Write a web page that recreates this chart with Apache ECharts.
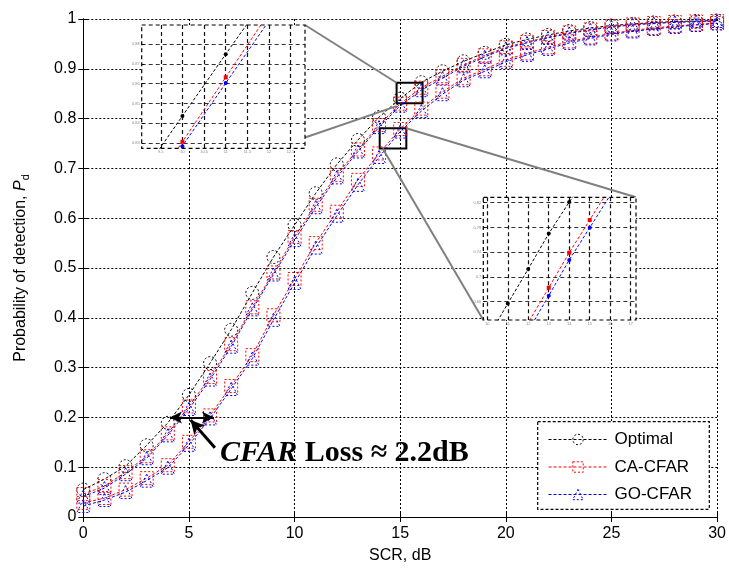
<!DOCTYPE html>
<html>
<head>
<meta charset="utf-8">
<script src="https://cdn.jsdelivr.net/npm/echarts@6/dist/echarts.min.js"></script>
<style>html,body{margin:0;padding:0;background:#fff}#main{width:729px;height:570px}</style>
</head>
<body>
<div id="main"></div>
<script>
// ---------- data ----------
const scr = [0,1,2,3,4,5,6,7,8,9,10,11,12,13,14,15,16,17,18,19,20,21,22,23,24,25,26,27,28,29,30];
const optimal = [0.055,0.076,0.102,0.144,0.189,0.245,0.309,0.376,0.450,0.522,0.586,0.650,0.708,0.757,0.803,0.840,0.873,0.895,0.915,0.932,0.948,0.959,0.968,0.976,0.982,0.987,0.990,0.993,0.995,0.996,0.997];
const caUpper = [0.046,0.062,0.090,0.122,0.168,0.222,0.281,0.347,0.421,0.491,0.562,0.627,0.687,0.738,0.787,0.830,0.862,0.885,0.908,0.927,0.943,0.954,0.964,0.973,0.979,0.985,0.989,0.992,0.994,0.995,0.996];
const goUpper = [0.041,0.058,0.086,0.118,0.164,0.217,0.276,0.342,0.417,0.487,0.556,0.622,0.682,0.734,0.783,0.826,0.857,0.881,0.905,0.924,0.941,0.952,0.962,0.971,0.978,0.984,0.988,0.991,0.993,0.995,0.996];
const caLower = [0.028,0.038,0.055,0.078,0.104,0.151,0.204,0.263,0.325,0.405,0.478,0.550,0.613,0.677,0.730,0.779,0.820,0.854,0.881,0.899,0.918,0.931,0.943,0.955,0.963,0.971,0.977,0.982,0.986,0.989,0.992];
const goLower = [0.022,0.034,0.050,0.073,0.099,0.145,0.198,0.257,0.318,0.396,0.470,0.541,0.605,0.667,0.723,0.774,0.815,0.849,0.877,0.895,0.914,0.928,0.940,0.952,0.961,0.969,0.975,0.980,0.984,0.988,0.991];

// inset 1 (upper-left)
const inset1X = [9,10,11,12,13];
const inset1Optimal = [0.812,0.8436,0.875,0.906,0.937];
const inset1CA = [0.798,0.8305,0.8632,0.896,0.928];
const inset1GO = [0.796,0.8283,0.8603,0.892,0.924];
const inset1XTicks = [9.5,10,10.5,11,11.5,12,12.5];
const inset1YTicks = [0.83,0.84,0.85,0.86,0.87,0.88];

// inset 2 (lower-right)
const inset2X = [10,11,12,13,14,15,16,17];
const inset2Optimal = [0.600,0.657,0.713,0.770,0.821,0.869,0.910,0.940];
const inset2CA = [0.510,0.568,0.626,0.6826,0.7392,0.792,0.845,0.890];
const inset2GO = [0.497,0.555,0.613,0.6697,0.7274,0.7795,0.832,0.878];
const inset2XTicks = [10,11,12,13,14,15,16,17];
const inset2YTicks = [0.66,0.70,0.74,0.78,0.82];

// zoom rectangles on main plot [x0,x1,y0,y1]
const zoomRectUpper = [14.83,16.06,0.831,0.872];
const zoomRectLower = [14.03,15.29,0.740,0.7805];

// annotation arrows (data coords)
const lossArrow = [[4.1,0.2],[6.18,0.2]];
const pointerArrow = [[6.23,0.139],[5.08,0.195]];

const xTicks = {min:0,max:30,interval:5};
const yTicks = {min:0,max:1,interval:0.1};

// ---------- layout ----------
const FONT = "'Liberation Sans', Arial, sans-serif";
const SERIF = "'Liberation Serif','Times New Roman',serif";
const MAIN = {left:83.3, top:19, right:11, bottom:53};
const IN1 = {left:141.7, top:25, width:163.3, height:123.3};
const IN2 = {left:483.3, top:197.3, width:152.7, height:122.7};

const chart = echarts.init(document.getElementById('main'), null, {renderer:'canvas'});

function mainSeries(name, vals, color, symbol){
  return {
    type:'line', name, xAxisIndex:0, yAxisIndex:0,
    data: scr.map((x,i)=>[x, vals[i]]),
    symbol, symbolSize: 13, showSymbol:true, clip:false, z:3,
    lineStyle:{color, width:1, type:[3,2]},
    itemStyle:{color:'rgba(0,0,0,0)', borderColor:color, borderWidth:1, borderType:[2,2]},
    emphasis:{disabled:true}, animation:false
  };
}
function insetSeries(name, xs, vals, color, symbol, idx){
  return {
    type:'line', name, xAxisIndex:idx, yAxisIndex:idx,
    data: xs.map((x,i)=>[x, vals[i]]),
    symbol, symbolSize: 4, showSymbol:true, clip:true, z:12,
    lineStyle:{color, width:1, type:[3,2]},
    itemStyle:{color, borderWidth:0},
    emphasis:{disabled:true}, animation:false
  };
}
function insetX(gridIndex, min, max, ticks){
  return {type:'value', gridIndex, min, max, z:10,
    axisLine:{show:false},
    axisTick:{show:true, inside:true, length:2, customValues:ticks, lineStyle:{color:'#000'}},
    axisLabel:{show:true, fontSize:4, color:'#888', margin:2, customValues:ticks, fontFamily:FONT},
    splitLine:{show:true, lineStyle:{color:'#111', type:[4,3], width:1.2}}};
}
function insetY(gridIndex, min, max, ticks){
  return {type:'value', gridIndex, min, max, z:10,
    axisLine:{show:false},
    axisTick:{show:true, inside:true, length:2, customValues:ticks, lineStyle:{color:'#000'}},
    axisLabel:{show:true, fontSize:4, color:'#888', margin:2, customValues:ticks, fontFamily:FONT},
    splitLine:{show:true, lineStyle:{color:'#333', type:[4,3], width:1.2}}};
}
function legendItem(name, color){
  return {name,
    lineStyle:{color, width:1, type:[3,2], opacity:1},
    itemStyle:{color:'rgba(0,0,0,0)', borderColor:color, borderWidth:1, borderType:[2,2]}};
}

const optS = mainSeries('Optimal', optimal, '#000000', 'circle');
optS.markArea = {silent:true, itemStyle:{color:'rgba(0,0,0,0)', borderColor:'#000', borderWidth:2},
  data:[
    [{coord:[zoomRectUpper[0], zoomRectUpper[3]]},{coord:[zoomRectUpper[1], zoomRectUpper[2]]}],
    [{coord:[zoomRectLower[0], zoomRectLower[3]]},{coord:[zoomRectLower[1], zoomRectLower[2]]}]
  ]};
optS.markLine = {silent:true, animation:false, label:{show:false}, symbolSize:[9,12],
  data:[
    [{coord:lossArrow[0], symbol:'arrow', lineStyle:{color:'#000', width:2, type:'solid'}},
     {coord:lossArrow[1], symbol:'arrow'}],
    [{coord:pointerArrow[0], symbol:'none', lineStyle:{color:'#000', width:3, type:'solid'}},
     {coord:pointerArrow[1], symbol:'arrow', symbolSize:[11,14]}]
  ]};

const option = {
  backgroundColor:'#fff',
  animation:false,
  textStyle:{fontFamily:FONT},
  grid:[
    {left:MAIN.left, top:MAIN.top, right:MAIN.right, bottom:MAIN.bottom, containLabel:false},
    {left:IN1.left, top:IN1.top, width:IN1.width, height:IN1.height},
    {left:IN2.left, top:IN2.top, width:IN2.width, height:IN2.height}
  ],
  xAxis:[
    {type:'value', gridIndex:0, min:xTicks.min, max:xTicks.max, interval:xTicks.interval, position:'bottom',
     name:'SCR, dB', nameLocation:'middle', nameGap:31, nameTextStyle:{fontSize:16, color:'#000', fontFamily:FONT},
     axisLine:{show:true, lineStyle:{color:'#000', width:1}},
     axisTick:{show:true, inside:true, length:5, lineStyle:{color:'#000'}},
     axisLabel:{fontSize:16, color:'#000', margin:9, fontFamily:FONT},
     splitLine:{show:true, lineStyle:{color:'#000', type:[2,2], width:1}}},
    {type:'value', gridIndex:0, min:xTicks.min, max:xTicks.max, interval:xTicks.interval, position:'top',
     axisLine:{show:true, lineStyle:{color:'#000', width:1}},
     axisTick:{show:true, inside:true, length:5, lineStyle:{color:'#000'}},
     axisLabel:{show:false}, splitLine:{show:false}},
    insetX(1, 9.06, 12.83, inset1XTicks),
    insetX(2, 9.805, 17.26, inset2XTicks)
  ],
  yAxis:[
    {type:'value', gridIndex:0, min:yTicks.min, max:yTicks.max, interval:yTicks.interval, position:'left',
     name:'Probability of detection, {i|P}{s|d}', nameLocation:'middle', nameGap:52,
     nameTextStyle:{fontSize:16, color:'#000', fontFamily:FONT, lineHeight:22,
       rich:{i:{fontStyle:'italic', fontSize:16, fontFamily:FONT, color:'#000', lineHeight:22},
             s:{fontSize:11, fontFamily:FONT, color:'#000', lineHeight:12, verticalAlign:'bottom'}}},
     axisLine:{show:true, lineStyle:{color:'#000', width:1}},
     axisTick:{show:true, inside:true, length:5, lineStyle:{color:'#000'}},
     axisLabel:{fontSize:16, color:'#000', margin:7, fontFamily:FONT},
     splitLine:{show:true, lineStyle:{color:'#000', type:[2,2], width:1}}},
    {type:'value', gridIndex:0, min:yTicks.min, max:yTicks.max, interval:yTicks.interval, position:'right',
     axisLine:{show:true, lineStyle:{color:'#000', width:1}},
     axisTick:{show:true, inside:true, length:5, lineStyle:{color:'#000'}},
     axisLabel:{show:false}, splitLine:{show:false}},
    insetY(1, 0.8272, 0.8898, inset1YTicks),
    insetY(2, 0.6304, 0.8287, inset2YTicks)
  ],
  legend:{
    data:[legendItem('Optimal','#000000'), legendItem('CA-CFAR','#ff0000'), legendItem('GO-CFAR','#0000ff')],
    orient:'vertical', left:548, top:431, padding:0,
    itemWidth:59, itemHeight:13, itemGap:10.5, z:30, selectedMode:false,
    textStyle:{fontSize:17, color:'#000', fontFamily:FONT, padding:[0,0,0,2]}
  },
  series:[
    optS,
    mainSeries('CA-CFAR', caUpper, '#ff0000', 'rect'),
    mainSeries('GO-CFAR', goUpper, '#0000ff', 'triangle'),
    mainSeries('CA-CFAR', caLower, '#ff0000', 'rect'),
    mainSeries('GO-CFAR', goLower, '#0000ff', 'triangle'),
    insetSeries('in1-opt', inset1X, inset1Optimal, '#000000', 'circle', 2),
    insetSeries('in1-ca', inset1X, inset1CA, '#ff0000', 'rect', 2),
    insetSeries('in1-go', inset1X, inset1GO, '#0000ff', 'circle', 2),
    insetSeries('in2-opt', inset2X, inset2Optimal, '#000000', 'circle', 3),
    insetSeries('in2-ca', inset2X, inset2CA, '#ff0000', 'rect', 3),
    insetSeries('in2-go', inset2X, inset2GO, '#0000ff', 'circle', 3)
  ]
};
chart.setOption(option);

// ---------- annotations: connectors, inset frames, legend frame, text ----------
function px(p){ return chart.convertToPixel({gridIndex:0}, p); }
const uTL = px([zoomRectUpper[0], zoomRectUpper[3]]);
const uBL = px([zoomRectUpper[0], zoomRectUpper[2]]);
const lTR = px([zoomRectLower[1], zoomRectLower[3]]);
const lBL = px([zoomRectLower[0], zoomRectLower[2]]);
const gray = {stroke:'#808080', lineWidth:2};
const graphic = [
  {type:'line', z:6, shape:{x1:IN1.left+IN1.width, y1:IN1.top, x2:uTL[0], y2:uTL[1]}, style:gray},
  {type:'line', z:6, shape:{x1:IN1.left+IN1.width-8, y1:IN1.top+IN1.height-8, x2:uBL[0], y2:uBL[1]+3}, style:gray},
  {type:'line', z:6, shape:{x1:lBL[0]+3, y1:lBL[1], x2:IN2.left, y2:IN2.top+IN2.height}, style:gray},
  {type:'line', z:6, shape:{x1:lTR[0], y1:lTR[1], x2:IN2.left+IN2.width, y2:IN2.top}, style:gray},
  {type:'rect', z:7, shape:{x:IN1.left, y:IN1.top, width:IN1.width, height:IN1.height}, style:{fill:'#fff', stroke:null}},
  {type:'rect', z:7, shape:{x:IN2.left, y:IN2.top, width:IN2.width, height:IN2.height}, style:{fill:'#fff', stroke:null}},
  {type:'rect', z:14, shape:{x:IN1.left, y:IN1.top, width:IN1.width, height:IN1.height}, style:{fill:null, stroke:'#000', lineWidth:1.2, lineDash:[4,3]}},
  {type:'rect', z:14, shape:{x:IN2.left, y:IN2.top, width:IN2.width, height:IN2.height}, style:{fill:null, stroke:'#000', lineWidth:1.2, lineDash:[4,3]}},
  {type:'rect', z:25, shape:{x:537.7, y:421.7, width:171.6, height:87.6}, style:{fill:'#fff', stroke:'#000', lineWidth:1.2, lineDash:[3,2]}},
  {type:'text', z:25, x:220, y:453, style:{
     text:'{i|CFAR}{b| Loss ≈ 2.2dB}', verticalAlign:'middle', align:'left',
     rich:{i:{fontStyle:'italic', fontWeight:'bold', fontSize:30, fontFamily:SERIF, fill:'#000'},
           b:{fontWeight:'bold', fontSize:30, fontFamily:SERIF, fill:'#000'}}}}
];
chart.setOption({graphic});
</script>
</body>
</html>
